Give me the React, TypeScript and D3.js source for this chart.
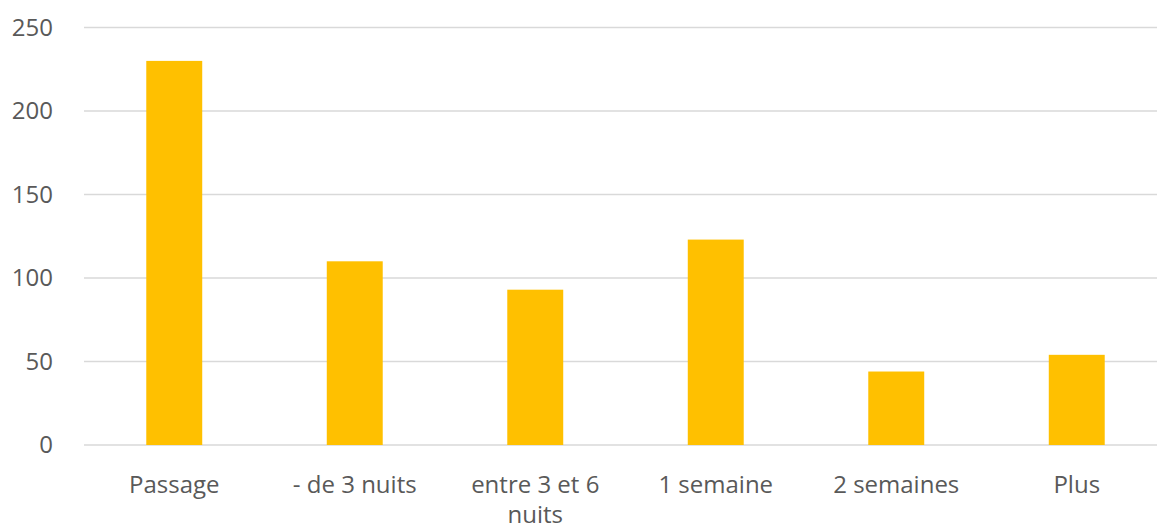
import React from 'react';
import * as d3 from 'd3';

const categories = ['Passage', '- de 3 nuits', 'entre 3 et 6 nuits', '1 semaine', '2 semaines', 'Plus'];
const values = [230, 110, 93, 123, 44, 54];
const yTicks = [0, 50, 100, 150, 200, 250];

const width = 1157;
const height = 531;
const left = 84;
const right = 1167;
const top = 27.5;
const bottom = 445;

// wrap long labels onto two lines like the original
const wrapLabel = (s: string): string[] => {
  if (s.length <= 14) return [s];
  const words = s.split(' ');
  const last = words.pop() as string;
  return [words.join(' '), last];
};

const App = () => {
  const x = d3.scaleBand<string>()
    .domain(categories)
    .range([left, right])
    .paddingInner(0.69)
    .paddingOuter(0.345);

  const y = d3.scaleLinear().domain([0, 250]).range([bottom, top]);

  return (
    <div style={{ position: 'absolute', left: 0, top: 0 }}>
      <svg width={width} height={height} style={{ display: 'block', background: '#fff' }}
        fontFamily="'Open Sans', sans-serif">
        {yTicks.map(t => (
          <g key={t}>
            <line x1={left} x2={width} y1={y(t)} y2={y(t)} stroke="#d9d9d9" strokeWidth={1.5} />
            <text x={53} y={y(t)} dy="0.35em" textAnchor="end" fontSize={24} fill="#595959">{t}</text>
          </g>
        ))}
        {categories.map((c, i) => (
          <rect key={c} x={x(c)} y={y(values[i])} width={x.bandwidth()}
            height={y(0) - y(values[i])} fill="#FFC000" />
        ))}
        {categories.map(c => (
          <text key={c} x={(x(c) as number) + x.bandwidth() / 2} y={493}
            textAnchor="middle" fontSize={24} fill="#595959">
            {wrapLabel(c).map((line, j) => (
              <tspan key={j} x={(x(c) as number) + x.bandwidth() / 2} dy={j === 0 ? 0 : 30}>{line}</tspan>
            ))}
          </text>
        ))}
      </svg>
    </div>
  );
};

export default App;
